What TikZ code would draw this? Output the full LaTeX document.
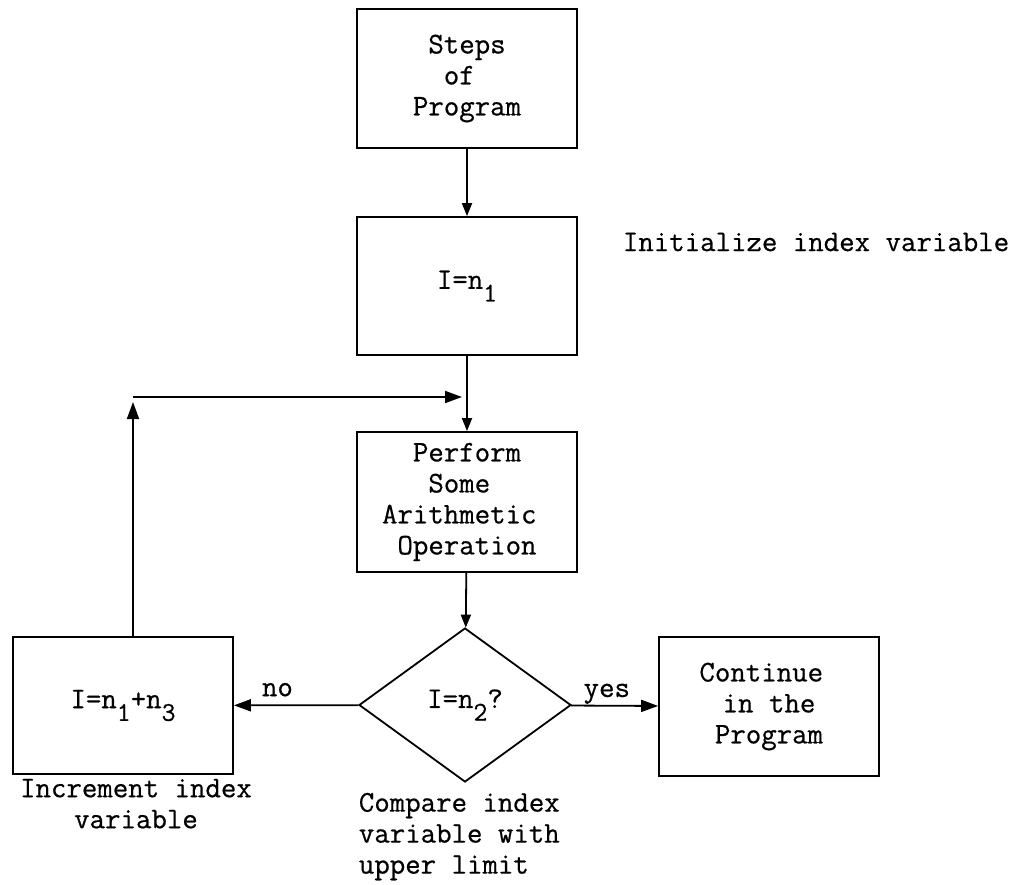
\documentclass[tikz,border=0pt]{standalone}
\usepackage{fontspec}
\usetikzlibrary{shapes.geometric,arrows.meta}
\newfontfamily\twfont[FakeBold=0.6]{Latin Modern Mono}
\newcommand\tw{\fontsize{30}{31}\selectfont\twfont}
\newcommand\sbs[1]{\raisebox{-0.42em}{\fontsize{27}{27}\selectfont #1}}
\begin{document}
\begin{tikzpicture}[x=1pt,y=-1pt,line width=1.8pt,
  box/.style={draw, rectangle, minimum width=220pt, minimum height=138pt, inner sep=0pt, align=center, font=\tw},
  dec/.style={draw, diamond, minimum width=212pt, minimum height=154pt, inner sep=0pt, font=\tw},
  txt/.style={font=\tw, inner sep=0pt},
  arr/.style={-{Triangle[length=13pt,width=10pt]}},
  bigarr/.style={-{Triangle[length=17pt,width=12pt]}}]
\fill[white] (0,0) rectangle (1012,884);
\useasboundingbox (0,0) rectangle (1012,884);
\node[box, minimum height=139pt] (steps) at (467,78.5) {Steps\\of\hphantom{x}\\Program};
\node[box] (init) at (467,286) {I=n\sbs{1}};
\node[txt, anchor=west] (initlbl) at (622,242) {Initialize index variable};
\node[box, minimum height=140pt] (perf) at (467,502) {Perform\\Some\hphantom{x}\\Arithmetic\hphantom{x}\\Operation};
\node[dec] (test) at (465,705) {I=n\sbs{2}?};
\node[box, minimum height=137pt] (incr) at (123,705.5) {I=n\sbs{1}+n\sbs{3}};
\node[box, minimum height=139pt] (cont) at (769,706.5) {Continue\hphantom{x}\\in the\\Program};
\node[txt, align=center, anchor=north] (incrlbl) at (136,778) {Increment index\\variable};
\node[txt, align=left, anchor=north west] (testlbl) at (358,792) {Compare index\\variable with\\upper limit};
\coordinate (corner) at (133,397);
\coordinate (join) at (467,397);
\draw[arr] (steps) -- (init);
\draw[arr] (init) -- (perf);
\draw[arr] (perf) -- (test);
\draw[bigarr, shorten >=5pt] (corner |- incr.north) -- (corner);
\draw[bigarr, shorten >=5pt] (corner) -- (join);
\draw[bigarr] (test) -- node[txt, pos=0.65, above=8pt] (nolbl) {no} (incr);
\draw[bigarr] (test) -- node[txt, pos=0.41, above=1pt] (yeslbl) {yes} (cont);
\end{tikzpicture}
\end{document}
